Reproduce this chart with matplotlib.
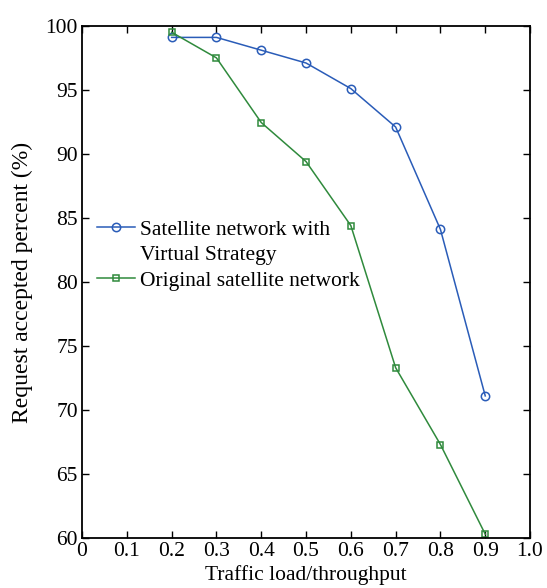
import matplotlib
matplotlib.use("Agg")
import matplotlib.pyplot as plt
from matplotlib.lines import Line2D

plt.rcParams['font.family'] = ['Liberation Serif', 'DejaVu Serif']
plt.rcParams['font.size'] = 15.5

load = [0.2, 0.3, 0.4, 0.5, 0.6, 0.7, 0.8, 0.9]
virtual = [99.1, 99.1, 98.1, 97.1, 95.1, 92.1, 84.1, 71.1]
original = [99.5, 97.5, 92.45, 89.4, 84.4, 73.3, 67.3, 60.3]

xticks = [0, 0.1, 0.2, 0.3, 0.4, 0.5, 0.6, 0.7, 0.8, 0.9, 1.0]
xlabels = ['0', '0.1', '0.2', '0.3', '0.4', '0.5', '0.6', '0.7', '0.8', '0.9', '1.0']
yticks = [60, 65, 70, 75, 80, 85, 90, 95, 100]

fig = plt.figure(figsize=(5.47, 5.88), dpi=100)
ax = fig.add_axes([0.150, 0.085, 0.819, 0.871])

l1, = ax.plot(load, virtual, '-o', color='#2a5cb8', lw=1.1, ms=6,
              mfc='none', mew=1.1)
l2, = ax.plot(load, original, '-s', color='#2f8a3c', lw=1.1, ms=4.5,
              mfc='none', mew=1.1)

ax.set_xlim(0, 1.0)
ax.set_ylim(60, 100)
ax.set_xticks(xticks)
ax.set_xticklabels(xlabels)
ax.set_yticks(yticks)
ax.tick_params(direction='in', top=True, right=True, length=5, width=1, pad=3)
for s in ax.spines.values():
    s.set_linewidth(1.3)

ax.set_xlabel('Traffic load/throughput', labelpad=3)
ax.set_ylabel('Request accepted percent (%)', fontsize=17)
ax.yaxis.set_label_coords(-0.11, 0.5)

# first label wraps on two lines, handle sits on the first one
blank = Line2D([], [], color='none')
ax.legend([l1, blank, l2],
          ['Satellite network with', 'Virtual Strategy', 'Original satellite network'],
          loc='upper left', bbox_to_anchor=(0.033, 0.622), frameon=False,
          borderaxespad=0, borderpad=0, handlelength=1.75, handletextpad=0.25,
          labelspacing=0.26)

fig.savefig('out.png', dpi=100)
